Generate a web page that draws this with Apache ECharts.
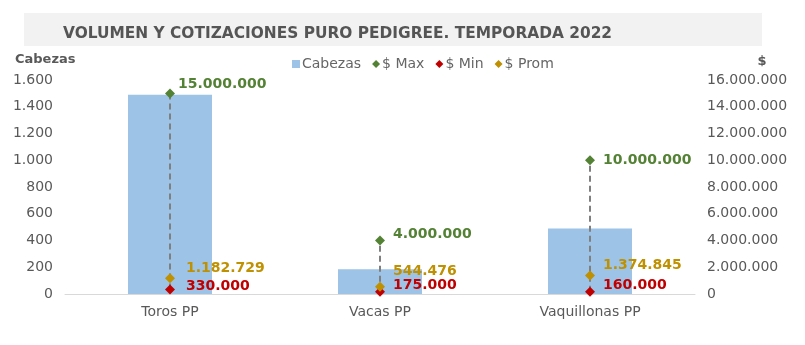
<!DOCTYPE html>
<html><head><meta charset="utf-8">
<script src="https://cdn.jsdelivr.net/npm/echarts@6/dist/echarts.min.js"></script>
<style>html,body{margin:0;padding:0;background:#fff}#c{width:805px;height:345px}</style>
</head><body><div id="c"></div>
<script>
const categories = ['Toros PP', 'Vacas PP', 'Vaquillonas PP'];
const cabezas = [1490, 185, 490];
const maxPrice = [15000000, 4000000, 10000000];
const minPrice = [330000, 175000, 160000];
const promPrice = [1182729, 544476, 1374845];
const leftTicks = { min: 0, max: 1600, interval: 200 };
const rightTicks = { min: 0, max: 16000000, interval: 2000000 };

// label nudges (style only)
const maxLabelOff = [[-5, -9], [0, -6], [0, 0]];
const promLabelOff = [[3, -10], [0, -15], [0, -10]];
const minLabelOff = [[3, -3], [0, -6], [0, -7]];

const fmt = v => String(Math.round(v)).replace(/\B(?=(\d{3})+(?!\d))/g, '.');
const FONT = 'DejaVu Sans';
const GRAY = '#595959';

function pts(vals, offs) {
  return vals.map((v, i) => ({
    value: [i, v],
    label: { offset: offs[i] }
  }));
}
function scatter(name, vals, offs, color) {
  return {
    name, type: 'scatter', yAxisIndex: 1, z: 5,
    symbol: 'diamond', symbolSize: 10,
    itemStyle: { color, opacity: 1 },
    data: pts(vals, offs),
    label: {
      show: true, position: 'right', distance: 8,
      color, opacity: 1, fontFamily: FONT, fontWeight: 'bold', fontSize: 14,
      formatter: p => fmt(p.value[1])
    }
  };
}

const chart = echarts.init(document.getElementById('c'), null, { renderer: 'canvas' });
chart.setOption({
  animation: false,
  graphic: [{
    type: 'rect', left: 24, top: 13, z: -10,
    shape: { width: 738, height: 33 },
    style: { fill: '#f2f2f2' }
  }],
  title: {
    text: 'VOLUMEN Y COTIZACIONES PURO PEDIGREE. TEMPORADA 2022',
    left: 58, top: 21,
    textStyle: { fontFamily: FONT, fontWeight: 'bold', fontSize: 15.4, color: '#555555' }
  },
  legend: {
    top: 52, left: 287,
    itemWidth: 8, itemHeight: 8, itemGap: 11,
    textStyle: { fontFamily: FONT, fontSize: 14, color: '#666666', padding: [0, 0, 0, -3] },
    data: [
      { name: 'Cabezas', icon: 'rect', itemStyle: { color: '#9dc3e6' } },
      { name: '$ Max', icon: 'diamond' },
      { name: '$ Min', icon: 'diamond' },
      { name: '$ Prom', icon: 'diamond' }
    ]
  },
  grid: { left: 65, right: 110, top: 80, bottom: 51, containLabel: false },
  xAxis: {
    type: 'category', data: categories,
    axisLine: { lineStyle: { color: '#d9d9d9', width: 1 } },
    axisTick: { show: false },
    axisLabel: { fontFamily: FONT, fontSize: 14, color: GRAY, margin: 11 }
  },
  yAxis: [{
    type: 'value', name: 'Cabezas', ...leftTicks,
    nameTextStyle: { fontFamily: FONT, fontWeight: 'bold', fontSize: 13, color: GRAY, align: 'left', padding: [0, 0, 0, -50] },
    nameGap: 14,
    splitLine: { show: false }, axisLine: { show: false }, axisTick: { show: false },
    axisLabel: { fontFamily: FONT, fontSize: 14, color: GRAY, margin: 12, formatter: fmt }
  }, {
    type: 'value', name: '$', ...rightTicks,
    nameTextStyle: { fontFamily: FONT, fontWeight: 'bold', fontSize: 13, color: GRAY, padding: [0, 0, 0, 134] },
    nameGap: 12,
    splitLine: { show: false }, axisLine: { show: false }, axisTick: { show: false },
    axisLabel: { fontFamily: FONT, fontSize: 14, color: GRAY, margin: 12, formatter: fmt }
  }],
  series: [{
    name: 'Cabezas', type: 'bar', data: cabezas, barWidth: '40%',
    itemStyle: { color: '#9dc3e6' }
  }, {
    name: 'range', type: 'custom', yAxisIndex: 1, z: 3,
    data: categories.map((c, i) => [i, minPrice[i], maxPrice[i]]),
    renderItem: (params, api) => {
      const a = api.coord([api.value(0), api.value(1)]);
      const b = api.coord([api.value(0), api.value(2)]);
      return {
        type: 'line',
        shape: { x1: a[0], y1: a[1], x2: b[0], y2: b[1] },
        style: { stroke: '#7f7f7f', lineWidth: 2, lineDash: [6, 4] }
      };
    },
    silent: true
  },
    scatter('$ Max', maxPrice, maxLabelOff, '#548235'),
    scatter('$ Min', minPrice, minLabelOff, '#c00000'),
    scatter('$ Prom', promPrice, promLabelOff, '#bf9000')
  ]
});
</script></body></html>
